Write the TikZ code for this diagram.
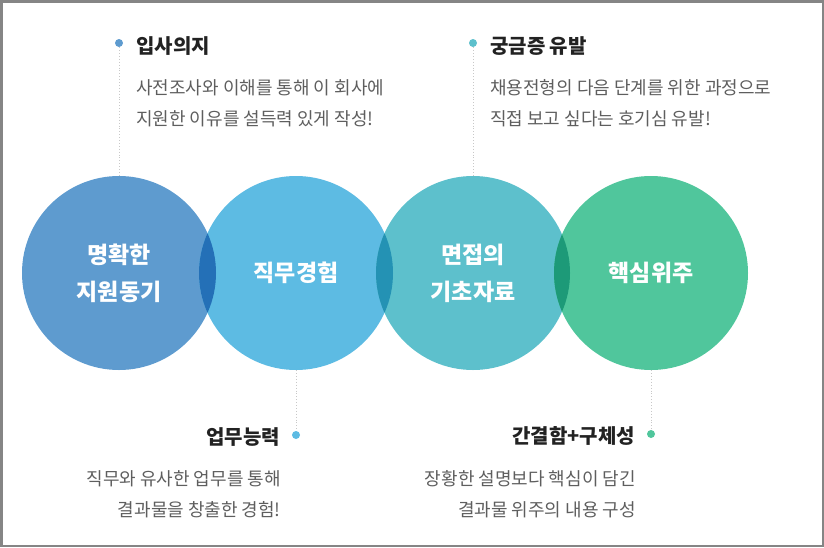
\documentclass[tikz,border=0pt]{standalone}
\usepackage{fontspec}
\setmainfont{Noto Sans CJK KR}
\usetikzlibrary{positioning}
\definecolor{Frame}{HTML}{858585}
\definecolor{Ink}{HTML}{222222}
\definecolor{Body}{HTML}{5E5E5E}
\definecolor{Leader}{HTML}{C8C8C8}
\definecolor{Navy}{HTML}{5E9BCF}
\definecolor{Sky}{HTML}{5DBBE3}
\definecolor{Aqua}{HTML}{5DC0CC}
\definecolor{Mint}{HTML}{50C69C}
\definecolor{NavySky}{HTML}{2470B7}
\definecolor{SkyAqua}{HTML}{2492B4}
\definecolor{AquaMint}{HTML}{1D9A78}
\tikzset{
  bubble/.style={
    circle, minimum size=194pt, inner sep=0pt, text=white, align=center,
    font=\fontsize{23}{37}\selectfont\bfseries
  },
  pin/.style={circle, minimum size=8pt, inner sep=0pt},
  heading/.style={inner sep=0pt, text=Ink, font=\fontsize{20}{24}\selectfont\bfseries},
  note/.style={inner sep=0pt, text=Body, font=\fontsize{18}{31}\selectfont},
  leader/.style={draw=Leader, line width=0.9pt, dotted}
}

\begin{document}
\begin{tikzpicture}[x=1pt, y=-1pt]
        \useasboundingbox (0,0) rectangle (824,547);
        \draw[Frame, line width=2.5pt] (1.25,1.25) rectangle (822.75,545.75);
        % circles
        \node[bubble, fill=Navy] (c1) at (119,273) {};
        \node[bubble, fill=Sky] (c2) at (296,273) {};
        \node[bubble, fill=Aqua] (c3) at (473,273) {};
        \node[bubble, fill=Mint] (c4) at (651,273) {};
        % overlaps
        \begin{scope}
          \clip (c1.center) circle (97pt);
          \fill[NavySky] (c2.center) circle (97pt);
        \end{scope}
        \begin{scope}
          \clip (c2.center) circle (97pt);
          \fill[SkyAqua] (c3.center) circle (97pt);
        \end{scope}
        \begin{scope}
          \clip (c3.center) circle (97pt);
          \fill[AquaMint] (c4.center) circle (97pt);
        \end{scope}
        \node[bubble] at (c1) {명확한\\지원동기};
        \node[bubble] at (c2) {직무경험};
        \node[bubble] at (c3) {면접의\\기초자료};
        \node[bubble] at (c4) {핵심위주};
        % top notes
        \node[pin, fill=Navy] (p1) at (119,43) {};
        \node[pin, fill=Aqua] (p3) at (473,43) {};
        \draw[leader] (p1) -- (c1.north);
        \draw[leader] (p3) -- (c3.north);
        \node[heading, anchor=west] (h1) at (136,46) {입사의지};
        \node[note, anchor=north west, align=left] (n1) at (136,79)
          {사전조사와 이해를 통해 이 회사에\\지원한 이유를 설득력 있게 작성!};
        \node[heading, anchor=west] (h3) at (490,46) {궁금증 유발};
        \node[note, anchor=north west, align=left] (n3) at (490,79)
          {채용전형의 다음 단계를 위한 과정으로\\직접 보고 싶다는 호기심 유발!};
        % bottom notes
        \node[pin, fill=Sky] (p2) at (296,435) {};
        \node[pin, fill=Mint] (p4) at (651,434) {};
        \draw[leader] (c2.south) -- (p2);
        \draw[leader] (c4.south) -- (p4);
        \node[heading, anchor=east] (h2) at (280,437) {업무능력};
        \node[note, anchor=north east, align=right] (n2) at (281,470)
          {직무와 유사한 업무를 통해\\결과물을 창출한 경험!};
        \node[heading, anchor=east] (h4) at (635,436) {간결함+구체성};
        \node[note, anchor=north east, align=right] (n4) at (636,470)
          {장황한 설명보다 핵심이 담긴\\결과물 위주의 내용 구성};
      \end{tikzpicture}
\end{document}
